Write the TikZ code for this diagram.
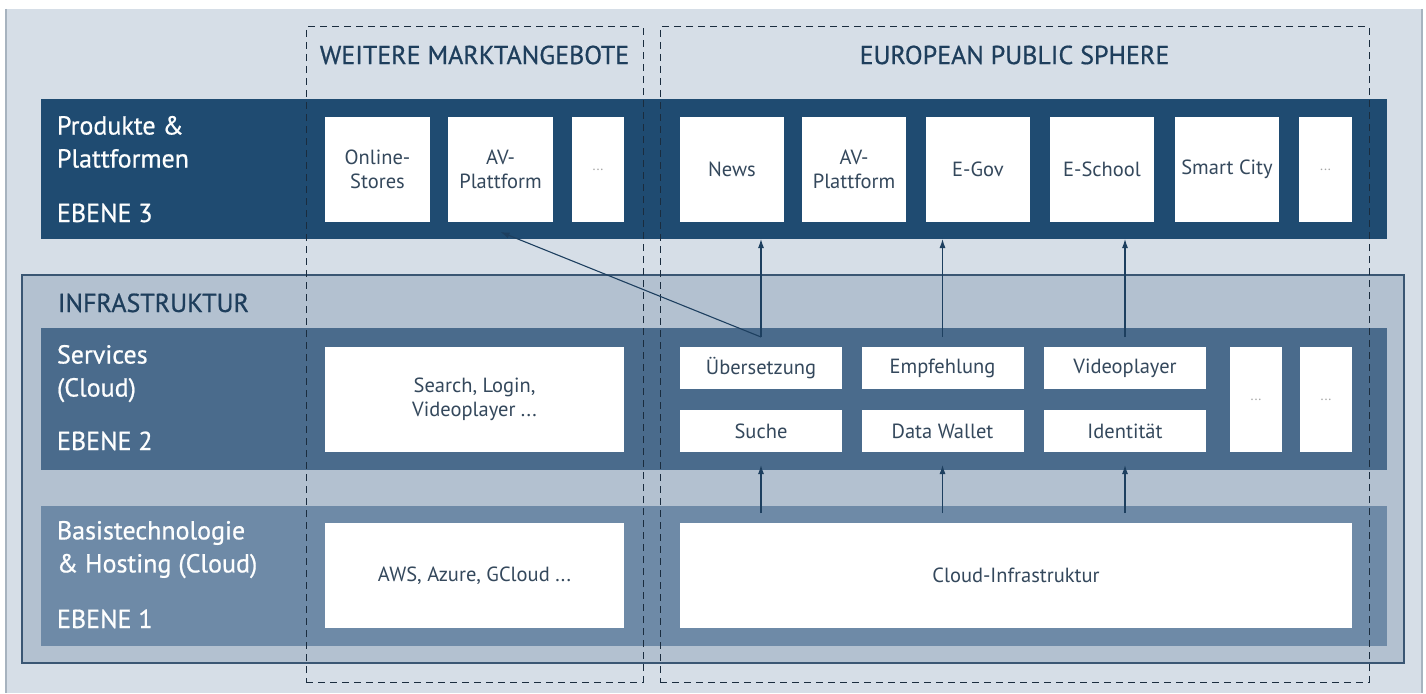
\documentclass[tikz,border=0pt]{standalone}
\usepackage{fontspec}
\setmainfont{PT Sans}
\newfontfamily\medfont[FakeBold=0.7]{PT Sans}
\usetikzlibrary{arrows.meta}
\definecolor{bgc}{HTML}{D6DEE7}
\definecolor{framec}{HTML}{A7B3BF}
\definecolor{bar3c}{HTML}{1F4B71}
\definecolor{bar2c}{HTML}{4A6B8C}
\definecolor{bar1c}{HTML}{6E8AA7}
\definecolor{infrac}{HTML}{B3C1D0}
\definecolor{infrab}{HTML}{3A5673}
\definecolor{headc}{HTML}{1E3E5C}
\definecolor{boxtc}{HTML}{34485C}
\definecolor{arrc}{HTML}{1D3F5F}
\definecolor{dashc}{HTML}{1A2C3E}
\newcommand\lblfont{\medfont\fontsize{26}{33}\selectfont}
\newcommand\boxfont{\fontsize{20.5}{23.5}\selectfont}
\begin{document}
\begin{tikzpicture}[x=1pt,y=-1pt,
  every node/.style={inner sep=0pt, outer sep=0pt},
  barbox/.style={rectangle, minimum width=1346pt},
  wbox/.style={rectangle, fill=white, text=boxtc, font=\boxfont, align=center},
  dotbox/.style={rectangle, fill=white, text=gray!70, font=\fontsize{14}{16}\selectfont},
  lbl/.style={text=white!96!bgc, font=\lblfont, align=left, anchor=north west},
  head/.style={text=headc, font=\lblfont},
  region/.style={rectangle, draw=dashc, line width=1pt, dash pattern=on 7pt off 5pt},
  arr/.style={draw=arrc, line width=1.1pt, -{Latex[length=9pt,width=6pt]}},
  seg/.style={draw=arrc, line width=1.1pt}
]
\useasboundingbox (0,0) rectangle (1426,693);
\fill[white] (0,0) rectangle (1426,693);
\fill[bgc] (6,9) rectangle (1422,693);
\draw[framec, line width=1.5pt] (6,9) -- (6,693) (1422,9) -- (1422,693);

% Ebene 3
\node[barbox, fill=bar3c, minimum height=140pt] (bar3) at (714,169) {};
% Infrastruktur
\node[rectangle, fill=infrac, draw=infrab, line width=1.5pt, minimum width=1382pt, minimum height=388pt] (infra) at (713,469) {};
\node[barbox, fill=bar2c, minimum height=142pt] (bar2) at (714,399) {};
\node[barbox, fill=bar1c, minimum height=140pt] (bar1) at (714,576) {};

% labels
\node[lbl] (l3) at (57,116) {Produkte \&\\Plattformen};
\node[lbl, anchor=base west] (e3) at (57,222) {EBENE 3};
\node[head, anchor=base west] (infl) at (58,312) {INFRASTRUKTUR};
\node[lbl] (l2) at (57,345) {Services\\(Cloud)};
\node[lbl, anchor=base west] (e2) at (57,450) {EBENE 2};
\node[lbl] (l1) at (57,521) {Basistechnologie\\\& Hosting (Cloud)};
\node[lbl, anchor=base west] (e1) at (57,628) {EBENE 1};
\node[head] (hA) at (474.5,55) {WEITERE MARKTANGEBOTE};
\node[head] (hB) at (1014.5,55) {EUROPEAN PUBLIC SPHERE};

% Ebene 3 boxes
\node[wbox, minimum width=105pt, minimum height=105pt] (os) at (377.5,169.5) {Online-\\Stores};
\node[wbox, minimum width=105pt, minimum height=105pt] (av1) at (500.5,169.5) {AV-\\Plattform};
\node[dotbox, minimum width=52pt, minimum height=105pt] (d1) at (598,169.5) {...};
\node[wbox, minimum width=104pt, minimum height=105pt] (news) at (732,169.5) {News};
\node[wbox, minimum width=104pt, minimum height=105pt] (av2) at (854,169.5) {AV-\\Plattform};
\node[wbox, minimum width=104pt, minimum height=105pt] (egov) at (978,169.5) {E-Gov};
\node[wbox, minimum width=104pt, minimum height=105pt] (esch) at (1102,169.5) {E-School};
\node[wbox, minimum width=104pt, minimum height=105pt] (smart) at (1227,169.5) {Smart City};
\node[dotbox, minimum width=53pt, minimum height=105pt] (d2) at (1325.5,169.5) {...};

% Ebene 2 boxes
\node[wbox, minimum width=299pt, minimum height=105pt] (search) at (474.5,399.5) {Search, Login,\\Videoplayer ...};
\node[wbox, minimum width=162pt, minimum height=42pt] (ueb) at (761,368) {Übersetzung};
\node[wbox, minimum width=162pt, minimum height=42pt] (emp) at (942.5,368) {Empfehlung};
\node[wbox, minimum width=162pt, minimum height=42pt] (vid) at (1125,368) {Videoplayer};
\node[wbox, minimum width=162pt, minimum height=42pt] (such) at (761,431) {Suche};
\node[wbox, minimum width=162pt, minimum height=42pt] (wal) at (942.5,431) {Data Wallet};
\node[wbox, minimum width=162pt, minimum height=42pt] (ident) at (1125,431) {Identität};
\node[dotbox, minimum width=52pt, minimum height=105pt] (d3) at (1256,399.5) {...};
\node[dotbox, minimum width=52pt, minimum height=105pt] (d4) at (1326,399.5) {...};

% Ebene 1 boxes
\node[wbox, minimum width=299pt, minimum height=105pt] (aws) at (474.5,575.5) {AWS, Azure, GCloud ...};
\node[wbox, minimum width=672pt, minimum height=105pt] (cloud) at (1016,575.5) {Cloud-Infrastruktur};

% dashed regions
\node[region, minimum width=337pt, minimum height=655pt] (regA) at (474.5,354.5) {};
\node[region, minimum width=709pt, minimum height=655pt] (regB) at (1014.5,354.5) {};

% connectors
\coordinate (j1) at ([yshift=10pt]ueb.north);
\coordinate (j2) at ([yshift=10pt]emp.north);
\coordinate (j3) at ([yshift=10pt]vid.north);
\draw[arr] (j1) -- (j1 |- bar3.south);
\draw[arr] (j2) -- (j2 |- bar3.south);
\draw[arr] (j3) -- (j3 |- bar3.south);
\draw[arr] (j1) -- ([yshift=-10pt]av1.south);
\coordinate (k1) at ([yshift=-7pt]bar1.north -| such.south);
\coordinate (k2) at ([yshift=-7pt]bar1.north -| wal.south);
\coordinate (k3) at ([yshift=-7pt]bar1.north -| ident.south);
\draw[arr] (k1) -- ([yshift=-13pt]such.south);
\draw[arr] (k2) -- ([yshift=-13pt]wal.south);
\draw[arr] (k3) -- ([yshift=-13pt]ident.south);
\end{tikzpicture}
\end{document}
